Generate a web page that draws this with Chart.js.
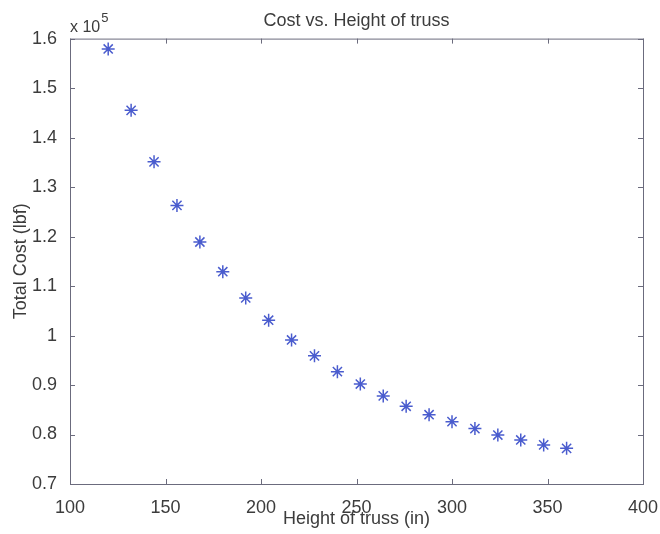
<!DOCTYPE html>
<html>
<head>
<meta charset="utf-8">
<title>Cost vs. Height of truss</title>
<script src="https://cdn.jsdelivr.net/npm/chart.js@4.4.1/dist/chart.umd.min.js"></script>
<style>
    html, body { margin: 0; padding: 0; background: #fff; }
</style>
</head>
<body>
<canvas id="myChart" width="660" height="534"></canvas>
<script>
/*
    Cost vs. height of truss, MATLAB style scatter with asterisk markers
*/

// x values = truss heights (in)
const heights = [120, 132, 144, 156, 168, 180, 192, 204, 216, 228, 240,
                 252, 264, 276, 288, 300, 312, 324, 336, 348, 360];
// y values = total cost (lbf)
const costs = [157900, 145500, 135100, 126300, 118900, 112900, 107600, 103100, 99100, 95900, 92700,
               90200, 87800, 85700, 84000, 82600, 81200, 79900, 78900, 77900, 77200];

// tick marks on both axes
const xTicks = [100, 150, 200, 250, 300, 350, 400];
const yTicks = [70000, 80000, 90000, 100000, 110000, 120000, 130000, 140000, 150000, 160000];

const axisColor = '#6b6b7d';
const textColor = '#3c3c3c';
const markerColor = '#4a5cce';

// draws the box round the plot, inward ticks and the "x 10^5" note
const matlabBox = {
    id: 'matlabBox',
    afterDraw(chart) {
        const ctx = chart.ctx;
        const a = chart.chartArea;
        const xs = chart.scales.x;
        const ys = chart.scales.y;
        const len = 5;
        ctx.save();
        ctx.strokeStyle = axisColor;
        ctx.lineWidth = 1;
        ctx.strokeRect(a.left + 0.5, a.top + 0.5, a.right - a.left, a.bottom - a.top);
        ctx.beginPath();
        xs.ticks.forEach(t => {
            const px = Math.round(xs.getPixelForValue(t.value)) + 0.5;
            ctx.moveTo(px, a.bottom); ctx.lineTo(px, a.bottom - len);
            ctx.moveTo(px, a.top); ctx.lineTo(px, a.top + len);
        });
        ys.ticks.forEach(t => {
            const py = Math.round(ys.getPixelForValue(t.value)) + 0.5;
            ctx.moveTo(a.left, py); ctx.lineTo(a.left + len, py);
            ctx.moveTo(a.right, py); ctx.lineTo(a.right - len, py);
        });
        ctx.stroke();

        // exponent label above the y axis
        ctx.fillStyle = textColor;
        ctx.textBaseline = 'alphabetic';
        ctx.textAlign = 'left';
        ctx.font = '16px "Liberation Sans", Arial, sans-serif';
        ctx.fillText('x 10', a.left, a.top - 7);
        const w = ctx.measureText('x 10').width;
        ctx.font = '13px "Liberation Sans", Arial, sans-serif';
        ctx.fillText('5', a.left + w + 1, a.top - 17);
        ctx.restore();
    }
};

function createChart() {
    const ctx = document.getElementById('myChart');
    const points = heights.map((h, i) => ({x: h, y: costs[i]}));

    Chart.defaults.font.family = '"Liberation Sans", Arial, sans-serif';
    Chart.defaults.font.size = 18;
    Chart.defaults.color = textColor;

    new Chart(ctx, {
        type: 'scatter',
        data: {
            datasets: [{
                label: 'Total Cost',
                data: points,
                pointStyle: 'star',
                pointRadius: 6.5,
                pointBorderWidth: 1.5,
                borderColor: markerColor,
                backgroundColor: markerColor
            }]
        },
        options: {
            responsive: false,
            animation: false,
            layout: {
                padding: {left: 0, right: 17, top: 0, bottom: 0}
            },
            scales: {
                x: {
                    type: 'linear',
                    min: 100,
                    max: 400,
                    afterBuildTicks: scale => { scale.ticks = xTicks.map(v => ({value: v})); },
                    afterFit: scale => {
                        scale.height = 50;
                        scale.paddingLeft = 0;
                        scale.paddingRight = 0;
                    },
                    grid: {display: false},
                    border: {display: false},
                    ticks: {
                        padding: 5,
                        maxRotation: 0,
                        callback: v => String(v)
                    },
                    title: {
                        display: true,
                        text: 'Height of truss (in)',
                        padding: {top: 0, bottom: 4}
                    }
                },
                y: {
                    type: 'linear',
                    min: 70000,
                    max: 160000,
                    afterBuildTicks: scale => { scale.ticks = yTicks.map(v => ({value: v})); },
                    afterFit: scale => { scale.width = 70; },
                    grid: {display: false},
                    border: {display: false},
                    ticks: {
                        padding: 5,
                        callback: v => String(Math.round(v / 10000) / 10)
                    },
                    title: {
                        display: true,
                        text: 'Total Cost (lbf)',
                        padding: {top: 10, bottom: 0}
                    }
                }
            },
            plugins: {
                legend: {display: false},
                tooltip: {enabled: false},
                title: {
                    display: true,
                    fullSize: false,
                    text: 'Cost vs. Height of truss',
                    font: {size: 18, weight: 'normal'},
                    padding: {top: 10, bottom: 7}
                }
            }
        },
        plugins: [matlabBox]
    });
}

createChart();
</script>
</body>
</html>
